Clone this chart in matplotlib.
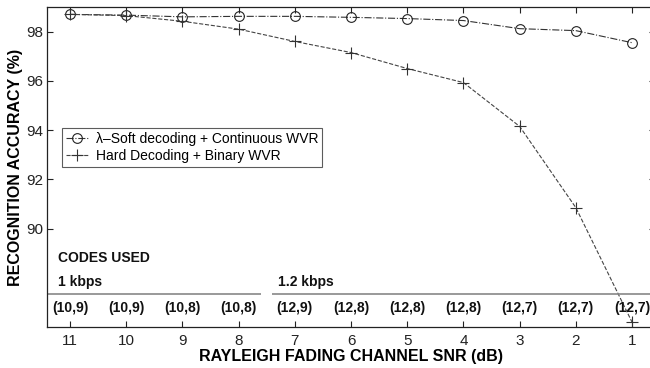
import matplotlib
matplotlib.use("Agg")
import matplotlib.pyplot as plt

plt.rcParams['font.family'] = ['Liberation Sans', 'DejaVu Sans']

snr = [11, 10, 9, 8, 7, 6, 5, 4, 3, 2, 1]
soft_acc = [98.70, 98.67, 98.60, 98.62, 98.62, 98.58, 98.53, 98.45, 98.12, 98.04, 97.55]
hard_acc = [98.70, 98.65, 98.42, 98.10, 97.60, 97.15, 96.50, 95.93, 94.15, 90.85, 86.20]
codes = ['(10,9)', '(10,9)', '(10,8)', '(10,8)', '(12,9)', '(12,8)',
         '(12,8)', '(12,8)', '(12,7)', '(12,7)', '(12,7)']
soft_label = 'λ\u2013Soft decoding + Continuous WVR'
hard_label = 'Hard Decoding + Binary WVR'
yticks = [90, 92, 94, 96, 98]

fig = plt.figure(figsize=(6.5, 3.68), dpi=100)
ax = fig.add_axes([47/650, 41/368, 607.5/650, 320/368])

ax.plot(snr, soft_acc, linestyle='-.', color='#333333', lw=0.8,
        marker='o', markersize=7, markerfacecolor='none',
        markeredgecolor='#222222', markeredgewidth=0.8, label=soft_label)
ax.plot(snr, hard_acc, linestyle='--', color='#444444', lw=0.8,
        marker='+', markersize=9, markeredgecolor='#333333',
        markeredgewidth=0.8, label=hard_label)

ax.set_xlim(11.41, 0.6)
ax.set_ylim(86, 99)
ax.set_xticks(snr)
ax.set_xticklabels([str(s) for s in snr])
ax.set_yticks(yticks)
ax.tick_params(direction='in', length=4, width=0.8, top=True, right=True,
               labelsize=11, colors='#222222', pad=5)
ax.tick_params(axis='y', pad=3)
for s in ax.spines.values():
    s.set_linewidth(0.9)
    s.set_color('#222222')

# codes band
ax.hlines(87.33, 11.41, 7.61, color='#888888', lw=1.2)
ax.hlines(87.33, 7.40, 0.6, color='#888888', lw=1.2)
for s, c in zip(snr, codes):
    ax.text(s, 86.78, c, ha='center', va='center', fontsize=10,
            fontweight='bold', color='#111111')
ax.text(11.21, 88.8, 'CODES USED', ha='left', va='center', fontsize=10,
        fontweight='bold', color='#111111')
ax.text(11.21, 87.82, '1 kbps', ha='left', va='center', fontsize=10,
        fontweight='bold', color='#111111')
ax.text(7.30, 87.82, '1.2 kbps', ha='left', va='center', fontsize=10,
        fontweight='bold', color='#111111')

ax.set_xlabel('RAYLEIGH FADING CHANNEL SNR (dB)', fontsize=11.5,
              fontweight='bold', labelpad=1)
ax.set_ylabel('RECOGNITION ACCURACY (%)', fontsize=11.5,
              fontweight='bold', labelpad=2)

leg = ax.legend(loc='upper left', bbox_to_anchor=(0.025, 0.622),
                borderaxespad=0, fontsize=10, frameon=True, fancybox=False,
                handlelength=1.6, borderpad=0.3, labelspacing=0.2,
                handletextpad=0.5)
leg.get_frame().set_edgecolor('#333333')
leg.get_frame().set_linewidth(0.8)

fig.savefig('out.png', dpi=100)
